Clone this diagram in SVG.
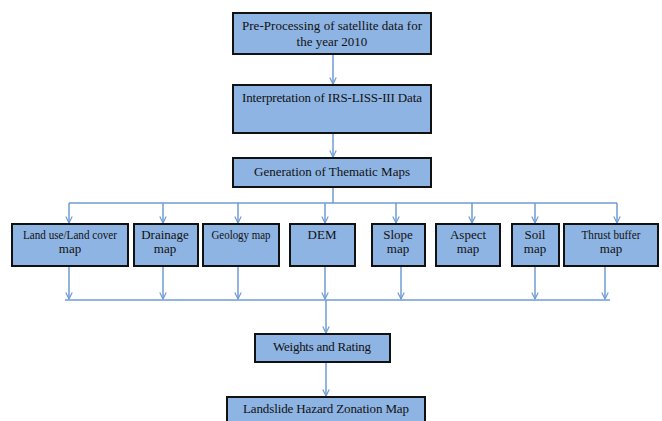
<svg xmlns="http://www.w3.org/2000/svg" width="662" height="421" viewBox="0 0 662 421">
<defs>
<style>
.box{fill:#8EB4E3;stroke:#111;stroke-width:2}
.t{font-family:"Liberation Serif","Times New Roman",serif;font-size:13px;fill:#111;text-anchor:middle}
.c{stroke:#6F9BD4;stroke-width:1.5;fill:none}
</style>
<marker id="a" viewBox="0 0 10 10" refX="9" refY="5" markerWidth="8" markerHeight="8" orient="auto" markerUnits="userSpaceOnUse">
<path d="M1,1 L9,5 L1,9" fill="none" stroke="#6F9BD4" stroke-width="1.5"/>
</marker>
</defs>
<rect width="662" height="421" fill="#fff"/>
<g id="connectors">
<line class="c" x1="333" y1="54" x2="333" y2="84" marker-end="url(#a)"/>
<line class="c" x1="333" y1="133" x2="333" y2="157" marker-end="url(#a)"/>
<line class="c" x1="333" y1="187" x2="333" y2="203"/>
<line class="c" x1="69" y1="203" x2="617" y2="203"/>
<line class="c" x1="69" y1="203" x2="69" y2="223" marker-end="url(#a)"/>
<line class="c" x1="163" y1="203" x2="163" y2="223" marker-end="url(#a)"/>
<line class="c" x1="238" y1="203" x2="238" y2="223" marker-end="url(#a)"/>
<line class="c" x1="325" y1="203" x2="325" y2="223" marker-end="url(#a)"/>
<line class="c" x1="396" y1="203" x2="396" y2="223" marker-end="url(#a)"/>
<line class="c" x1="472" y1="203" x2="472" y2="223" marker-end="url(#a)"/>
<line class="c" x1="535" y1="203" x2="535" y2="223" marker-end="url(#a)"/>
<line class="c" x1="617" y1="203" x2="617" y2="223" marker-end="url(#a)"/>
<line class="c" x1="69" y1="266" x2="69" y2="299" marker-end="url(#a)"/>
<line class="c" x1="163" y1="266" x2="163" y2="299" marker-end="url(#a)"/>
<line class="c" x1="238" y1="266" x2="238" y2="299" marker-end="url(#a)"/>
<line class="c" x1="325" y1="266" x2="325" y2="299" marker-end="url(#a)"/>
<line class="c" x1="401" y1="266" x2="401" y2="299" marker-end="url(#a)"/>
<line class="c" x1="535" y1="266" x2="535" y2="299" marker-end="url(#a)"/>
<line class="c" x1="605" y1="266" x2="605" y2="299" marker-end="url(#a)"/>
<line class="c" x1="65" y1="300" x2="610" y2="300"/>
<line class="c" x1="326" y1="300" x2="326" y2="333" marker-end="url(#a)"/>
<line class="c" x1="326" y1="362" x2="326" y2="396" marker-end="url(#a)"/>
</g>
<g id="n1"><rect class="box" x="233" y="13" width="198" height="41"/>
<text class="t" x="332" y="30" textLength="180" lengthAdjust="spacing">Pre-Processing of satellite data for</text>
<text class="t" x="332" y="46">the year 2010</text></g>
<g id="n2"><rect class="box" x="233" y="85" width="198" height="48"/>
<text class="t" x="332" y="102" textLength="180" lengthAdjust="spacing">Interpretation of IRS-LISS-III Data</text></g>
<g id="n3"><rect class="box" x="233" y="158" width="198" height="29"/>
<text class="t" x="332" y="176" textLength="156" lengthAdjust="spacing">Generation of Thematic Maps</text></g>
<g id="n4"><rect class="box" x="12" y="224" width="116" height="42"/>
<text class="t" x="70" y="239" textLength="94" lengthAdjust="spacingAndGlyphs">Land use/Land cover</text>
<text class="t" x="70" y="253">map</text></g>
<g id="n5"><rect class="box" x="134" y="224" width="64" height="42"/>
<text class="t" x="165" y="239">Drainage</text>
<text class="t" x="165" y="253">map</text></g>
<g id="n6"><rect class="box" x="203" y="224" width="76" height="42"/>
<text class="t" x="241" y="239" textLength="59" lengthAdjust="spacingAndGlyphs">Geology map</text></g>
<g id="n7"><rect class="box" x="290" y="224" width="65" height="42"/>
<text class="t" x="322" y="239">DEM</text></g>
<g id="n8"><rect class="box" x="372" y="224" width="53" height="42"/>
<text class="t" x="398" y="239">Slope</text>
<text class="t" x="398" y="253">map</text></g>
<g id="n9"><rect class="box" x="436" y="224" width="64" height="42"/>
<text class="t" x="468" y="239">Aspect</text>
<text class="t" x="468" y="253">map</text></g>
<g id="n10"><rect class="box" x="512" y="224" width="47" height="42"/>
<text class="t" x="535" y="239">Soil</text>
<text class="t" x="535" y="253">map</text></g>
<g id="n11"><rect class="box" x="564" y="224" width="94" height="42"/>
<text class="t" x="611" y="239" textLength="59" lengthAdjust="spacingAndGlyphs">Thrust buffer</text>
<text class="t" x="611" y="253">map</text></g>
<g id="n12"><rect class="box" x="255" y="334" width="135" height="28"/>
<text class="t" x="322" y="351" textLength="98" lengthAdjust="spacing">Weights and Rating</text></g>
<g id="n13"><rect class="box" x="227" y="397" width="198" height="30"/>
<text class="t" x="326" y="413" textLength="166" lengthAdjust="spacing">Landslide Hazard Zonation Map</text></g>
</svg>
